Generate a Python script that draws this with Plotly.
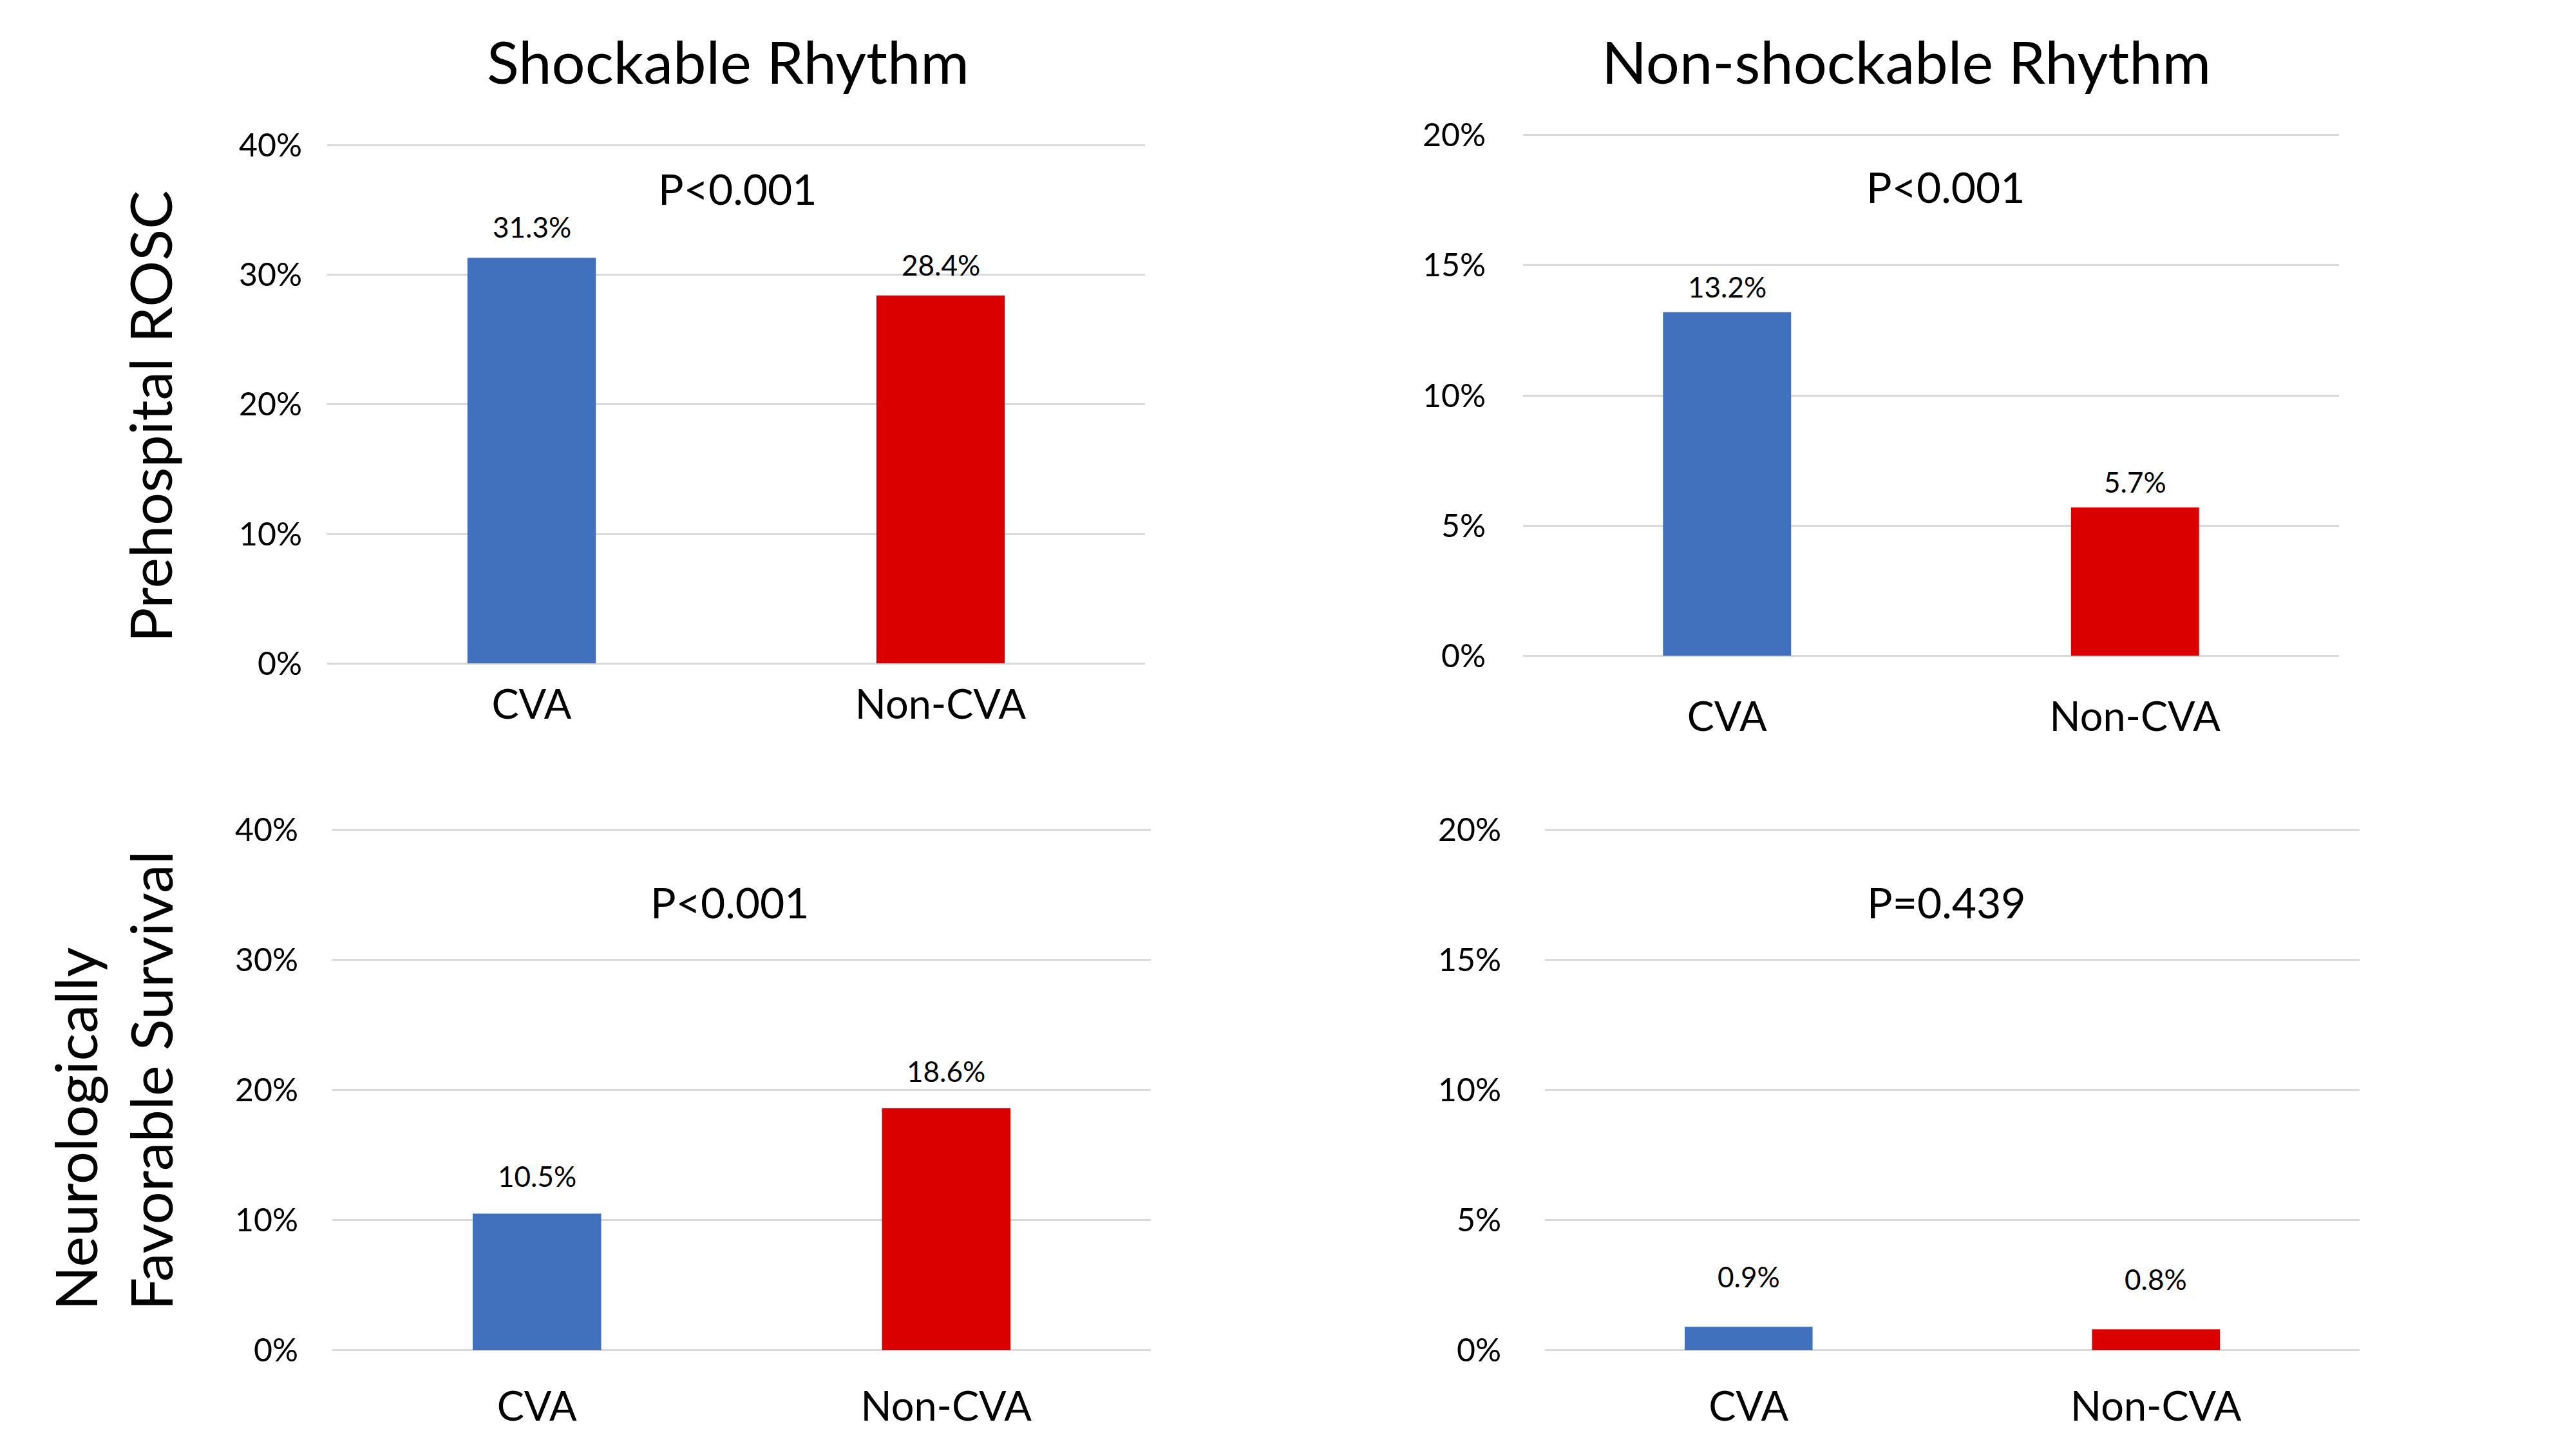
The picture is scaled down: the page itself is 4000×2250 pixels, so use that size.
import plotly.graph_objects as go

categories = ["CVA", "Non-CVA"]
shock_rosc = [31.3, 28.4]
nonshock_rosc = [13.2, 5.7]
shock_neuro = [10.5, 18.6]
nonshock_neuro = [0.9, 0.8]
bar_colors = ["#4170BC", "#DA0000"]
p_values = ["P<0.001", "P<0.001", "P<0.001", "P=0.439"]
col_titles = ["Shockable Rhythm", "Non-shockable Rhythm"]
row_titles = ["Prehospital ROSC", "Neurologically<br>Favorable Survival"]
ticks_40 = [0, 10, 20, 30, 40]
ticks_20 = [0, 5, 10, 15, 20]
tick_labels_40 = ["0%", "10%", "20%", "30%", "40%"]
tick_labels_20 = ["0%", "5%", "10%", "15%", "20%"]

FONT = "Lato, sans-serif"
W, H = 4000, 2250

panels = [
    dict(vals=shock_rosc, ticks=ticks_40, labels=tick_labels_40, xd=[500, 1770], yd=[191, 1019],
         ystand=38, xstand=22, lab_shift=26, p=(0.502, 0.915)),
    dict(vals=nonshock_rosc, ticks=ticks_20, labels=tick_labels_20, xd=[2357, 3624], yd=[175, 1007],
         ystand=57, xstand=52, lab_shift=18, p=(0.518, 0.90)),
    dict(vals=shock_neuro, ticks=ticks_40, labels=tick_labels_40, xd=[508, 1779], yd=[1283, 2114],
         ystand=52, xstand=45, lab_shift=36, p=(0.486, 0.86)),
    dict(vals=nonshock_neuro, ticks=ticks_20, labels=tick_labels_20, xd=[2391, 3656], yd=[1283, 2114],
         ystand=67, xstand=45, lab_shift=56, p=(0.493, 0.86)),
]

fig = go.Figure()
layout = {}
annotations = []
for i, pn in enumerate(panels):
    n = "" if i == 0 else str(i + 1)
    xa, ya = "x" + n, "y" + n
    fig.add_trace(go.Bar(
        x=categories, y=pn["vals"], marker=dict(color=bar_colors, line=dict(width=0)),
        xaxis=xa, yaxis=ya, showlegend=False, hoverinfo="skip",
    ))
    layout["xaxis" + n] = dict(
        domain=[pn["xd"][0] / W, pn["xd"][1] / W], anchor=ya,
        showgrid=False, showline=False, zeroline=False, ticks="",
        tickfont=dict(family=FONT, size=63, color="#000000"),
        ticklabelstandoff=pn["xstand"], fixedrange=True,
    )
    top = pn["ticks"][-1]
    layout["yaxis" + n] = dict(
        domain=[1 - pn["yd"][1] / H, 1 - pn["yd"][0] / H], anchor=xa,
        range=[0, top * 1.0015], tickmode="array", tickvals=pn["ticks"], ticktext=pn["labels"],
        showgrid=True, gridcolor="#D9D9D9", gridwidth=3,
        zeroline=True, zerolinecolor="#D9D9D9", zerolinewidth=3,
        showline=False, ticks="",
        tickfont=dict(family=FONT, size=50, color="#000000"),
        ticklabelstandoff=pn["ystand"], fixedrange=True,
    )
    for c, v in zip(categories, pn["vals"]):
        annotations.append(dict(
            x=c, y=v, xref=xa, yref=ya, text=f"{v:.1f}%", showarrow=False,
            yanchor="middle", yshift=pn["lab_shift"] + 22,
            font=dict(family=FONT, size=44, color="#000000"),
        ))
    annotations.append(dict(
        x=pn["p"][0], y=pn["p"][1], xref=xa + " domain", yref=ya + " domain",
        text=p_values[i], showarrow=False, xanchor="center", yanchor="middle",
        font=dict(family=FONT, size=66, color="#000000"),
    ))

annotations.append(dict(x=1122 / W, y=1 - 58 / H, xref="paper", yref="paper", text=col_titles[0],
                        showarrow=False, xanchor="center", yanchor="middle",
                        font=dict(family=FONT, size=92, color="#000000")))
annotations.append(dict(x=2952 / W, y=1 - 58 / H, xref="paper", yref="paper", text=col_titles[1],
                        showarrow=False, xanchor="center", yanchor="middle",
                        font=dict(family=FONT, size=92, color="#000000")))
annotations.append(dict(x=224 / W, y=1 - 625 / H, xref="paper", yref="paper", text=row_titles[0],
                        showarrow=False, xanchor="center", yanchor="middle", textangle=-90,
                        font=dict(family=FONT, size=90, color="#000000")))
annotations.append(dict(x=167 / W, y=1 - 1684 / H, xref="paper", yref="paper", text=row_titles[1],
                        showarrow=False, xanchor="center", yanchor="middle", textangle=-90, align="left",
                        font=dict(family=FONT, size=90, color="#000000")))

fig.update_layout(
    width=W, height=H, autosize=False,
    margin=dict(l=0, r=0, t=0, b=0),
    paper_bgcolor="#FFFFFF", plot_bgcolor="#FFFFFF",
    bargap=0.686, annotations=annotations, **layout,
)
fig.write_html("out.html", config={"displayModeBar": False})
